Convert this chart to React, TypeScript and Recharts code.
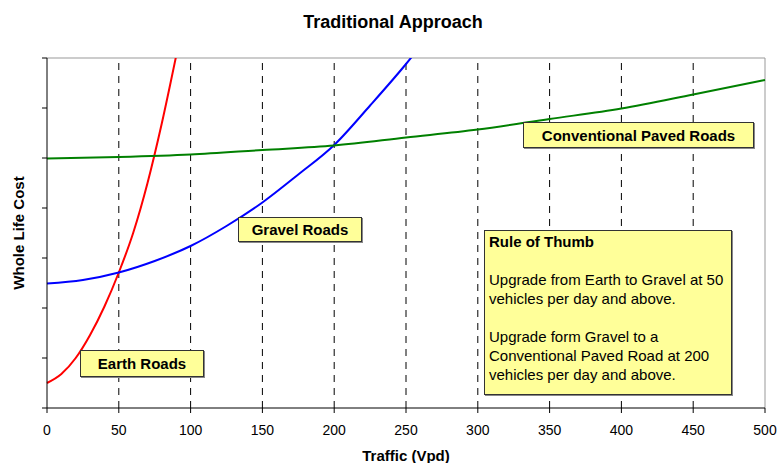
import React from "react";
import {
  Line,
  LineChart,
  ReferenceLine,
  XAxis,
  YAxis,
} from "recharts";

// traffic (vehicles per day) vs whole life cost
const earthTraffic = [0, 10, 20, 30, 40, 50, 60, 70, 80, 90];
const earthCost = [0.5, 0.68, 1.0, 1.46, 2.03, 2.71, 3.5, 4.5, 5.7, 7.05];

const gravelTraffic = [0, 25, 50, 75, 100, 125, 150, 175, 200, 225, 250, 275];
const gravelCost = [2.49, 2.56, 2.71, 2.94, 3.24, 3.64, 4.11, 4.67, 5.26, 6.05, 6.88, 7.8];

const pavedTraffic = [0, 50, 100, 150, 200, 250, 300, 350, 400, 450, 500];
const pavedCost = [4.99, 5.02, 5.07, 5.16, 5.25, 5.41, 5.57, 5.78, 5.99, 6.27, 6.56];

const xTicks = [0, 50, 100, 150, 200, 250, 300, 350, 400, 450, 500];
const gridX = [50, 100, 150, 200, 250, 300, 350, 400, 450];
const yTicks = [0, 1, 2, 3, 4, 5, 6, 7];

const toRows = (xs: number[], ys: number[]) =>
  xs.map((x, i) => ({ traffic: x, cost: ys[i] }));

const earth = toRows(earthTraffic, earthCost);
const gravel = toRows(gravelTraffic, gravelCost);
const paved = toRows(pavedTraffic, pavedCost);

const font = "Arial, 'Liberation Sans', sans-serif";

const box: React.CSSProperties = {
  position: "absolute",
  background: "#ffff99",
  border: "1px solid #333",
  boxShadow: "1px 1px 0 #888",
  boxSizing: "border-box",
  fontFamily: font,
  color: "#000",
};

const tagStyle: React.CSSProperties = {
  ...box,
  fontWeight: "bold",
  fontSize: 15,
  display: "flex",
  alignItems: "center",
  justifyContent: "center",
};

export default function App() {
  return (
    <div
      style={{
        position: "absolute",
        left: 0,
        top: 0,
        width: 777,
        height: 463,
        background: "#fff",
        fontFamily: font,
      }}
    >
      <LineChart
        width={777}
        height={463}
        margin={{ top: 58, right: 12, left: 0, bottom: 25 }}
      >
        {gridX.map((x) => (
          <ReferenceLine
            key={x}
            x={x}
            stroke="#000"
            strokeDasharray="7 6"
            strokeWidth={1}
          />
        ))}
        <ReferenceLine y={7} stroke="#999" strokeWidth={1} />
        <ReferenceLine x={500} stroke="#999" strokeWidth={1} />
        <XAxis
          type="number"
          dataKey="traffic"
          domain={[0, 500]}
          ticks={xTicks}
          height={30}
          stroke="#000"
          tickSize={5}
          tickMargin={12}
          tick={{ fontSize: 14, fill: "#000", fontFamily: font }}
        />
        <YAxis
          type="number"
          dataKey="cost"
          domain={[0, 7]}
          ticks={yTicks}
          allowDataOverflow
          width={47}
          stroke="#000"
          tickSize={5}
          tick={() => <g />}
        />
        <Line
          data={earth}
          dataKey="cost"
          type="monotone"
          stroke="#ff0000"
          strokeWidth={2}
          dot={false}
          isAnimationActive={false}
        />
        <Line
          data={gravel}
          dataKey="cost"
          type="monotone"
          stroke="#0000ff"
          strokeWidth={2}
          dot={false}
          isAnimationActive={false}
        />
        <Line
          data={paved}
          dataKey="cost"
          type="monotone"
          stroke="#008000"
          strokeWidth={2}
          dot={false}
          isAnimationActive={false}
        />
      </LineChart>

      <div
        style={{
          position: "absolute",
          left: 393,
          top: 22,
          transform: "translate(-50%, -50%)",
          fontSize: 18,
          fontWeight: "bold",
          whiteSpace: "nowrap",
        }}
      >
        Traditional Approach
      </div>
      <div
        style={{
          position: "absolute",
          left: 18,
          top: 233,
          transform: "translate(-50%, -50%) rotate(-90deg)",
          fontSize: 15,
          fontWeight: "bold",
          whiteSpace: "nowrap",
        }}
      >
        Whole Life Cost
      </div>
      <div
        style={{
          position: "absolute",
          left: 406,
          top: 455,
          transform: "translate(-50%, -50%)",
          fontSize: 15,
          fontWeight: "bold",
          whiteSpace: "nowrap",
        }}
      >
        Traffic (Vpd)
      </div>

      <div style={{ ...tagStyle, left: 80, top: 350, width: 124, height: 27 }}>
        Earth Roads
      </div>
      <div style={{ ...tagStyle, left: 238, top: 217, width: 124, height: 25 }}>
        Gravel Roads
      </div>
      <div style={{ ...tagStyle, left: 523, top: 122, width: 231, height: 26 }}>
        Conventional Paved Roads
      </div>
      <div
        style={{
          ...box,
          left: 484,
          top: 230,
          width: 248,
          height: 165,
          fontSize: 15,
          lineHeight: "19px",
          padding: "1px 0 0 4px",
        }}
      >
        <div style={{ fontWeight: "bold" }}>Rule of Thumb</div>
        <div style={{ height: 19 }} />
        <div>Upgrade from Earth to Gravel at 50</div>
        <div>vehicles per day and above.</div>
        <div style={{ height: 19 }} />
        <div>Upgrade form Gravel to a</div>
        <div>Conventional Paved Road at 200</div>
        <div>vehicles per day and above.</div>
      </div>
    </div>
  );
}
